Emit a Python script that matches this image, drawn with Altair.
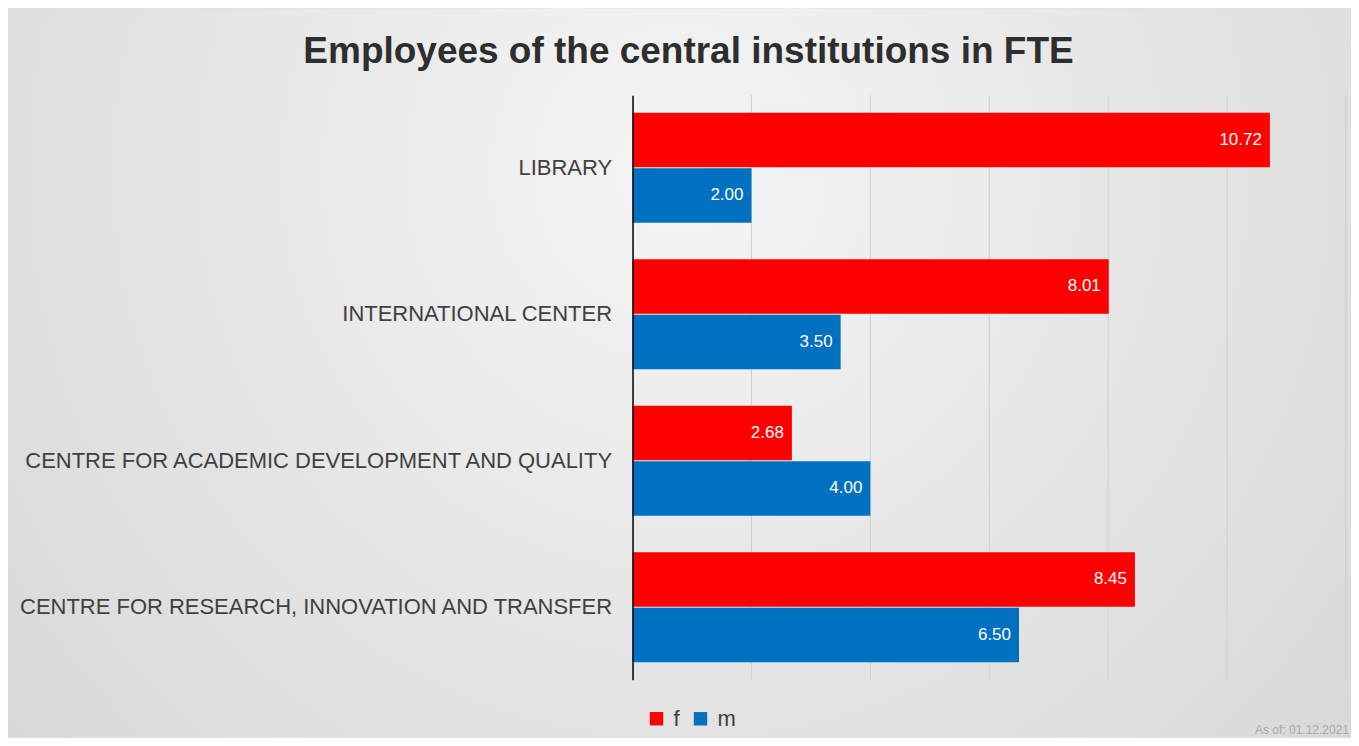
import altair as alt
import pandas as pd

categories = [
    "LIBRARY",
    "INTERNATIONAL CENTER",
    "CENTRE FOR ACADEMIC DEVELOPMENT AND QUALITY",
    "CENTRE FOR RESEARCH, INNOVATION AND TRANSFER",
]
series = ["f", "m"]
f_values = [10.72, 8.01, 2.68, 8.45]
m_values = [2.00, 3.50, 4.00, 6.50]
grid_ticks = [2, 4, 6, 8, 10, 12]
title_text = "Employees of the central institutions in FTE"
note_text = "As of: 01.12.2021"
colors = ["#FF0000", "#0070C0"]

rows = []
for c, f, m in zip(categories, f_values, m_values):
    rows.append({"category": c, "series": "f", "value": f})
    rows.append({"category": c, "series": "m", "value": m})
df = pd.DataFrame(rows)

W, H = 714, 585
PL, PT, PR, PB = 625, 87, 5, 58
FONT = "Liberation Sans"

xenc = alt.X("value:Q", scale=alt.Scale(domain=[0, 12], nice=False, zero=True), axis=None)
yenc = alt.Y(
    "category:N",
    sort=categories,
    scale=alt.Scale(paddingInner=0.25, paddingOuter=0.12),
    axis=alt.Axis(
        title=None, labelFontSize=22, labelColor="#404040", labelFont=FONT,
        ticks=False, domainColor="#000000", domainWidth=1.5, labelPadding=21,
        labelLimit=0, zindex=1, grid=False,
    ),
)
yoff = alt.YOffset("series:N", sort=series, scale=alt.Scale(paddingInner=0.02))

gradient = alt.RadialGradient(
    gradient="radial",
    stops=[
        alt.GradientStop(offset=0, color="#f5f5f5"),
        alt.GradientStop(offset=1, color="#d4d4d4"),
    ],
    x1=0.5, y1=0.35, r1=0, x2=0.5, y2=0.35, r2=0.75,
)

bg = alt.Chart(pd.DataFrame({"a": [0]})).mark_rect(fill=gradient).encode(
    x=alt.value(-PL), x2=alt.value(W + PR), y=alt.value(-PT), y2=alt.value(H + PB)
)

grid = alt.Chart(pd.DataFrame({"tick": grid_ticks})).mark_rule(
    color="#cfcfcf", strokeWidth=1
).encode(x=alt.X("tick:Q", scale=alt.Scale(domain=[0, 12], nice=False), axis=None))

bars = alt.Chart(df).mark_bar().encode(
    y=yenc,
    yOffset=yoff,
    x=xenc,
    color=alt.Color(
        "series:N",
        scale=alt.Scale(domain=series, range=colors),
        legend=alt.Legend(
            orient="none", legendX=13, legendY=613, direction="horizontal",
            title=None, symbolType="square", symbolSize=180, symbolStrokeWidth=0,
            labelFontSize=22, labelColor="#404040", labelFont=FONT,
            columnPadding=9, labelOffset=6, zindex=1,
        ),
    ),
)

labels = alt.Chart(df).mark_text(
    align="right", baseline="middle", dx=-8, color="white", fontSize=17, font=FONT
).encode(y=yenc, yOffset=yoff, x=xenc, text=alt.Text("value:Q", format=".2f"))

note = alt.Chart(pd.DataFrame({"a": [0]})).mark_text(
    align="right", baseline="middle", fontSize=12, color="#a8a8a8", font=FONT
).encode(x=alt.value(W + 3), y=alt.value(H + 50), text=alt.value(note_text))

chart = alt.layer(bg, grid, bars, labels, note).properties(
    width=W,
    height=H,
    padding={"left": PL, "top": PT, "right": PR, "bottom": PB},
    autosize=alt.AutoSizeParams(type="none"),
    title=alt.TitleParams(
        title_text, font="Liberation Sans", fontSize=37, fontWeight="bold",
        color="#2e2e2e", anchor="middle", frame="group", dx=-301, offset=-63, zindex=1,
    ),
).configure(background="#e0e0e0").configure_view(stroke=None)

chart.save("out.html", embed_options={"renderer": "svg", "actions": False})
